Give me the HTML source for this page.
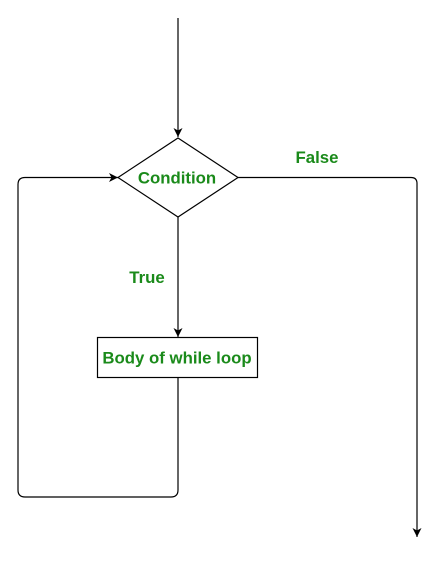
<!DOCTYPE html>
<html><head><style>body{margin:0;background:#fff}</style></head><body>
<svg width="436" height="556" xmlns="http://www.w3.org/2000/svg">
<defs><marker id="a" markerWidth="12" markerHeight="12" refX="9" refY="4.5" orient="auto" markerUnits="userSpaceOnUse"><path d="M0,0 L9,4.5 L0,9 L2.5,4.5 z" fill="#000"/></marker></defs>
<g fill="none" stroke="#000" stroke-width="1.2">
<path d="M178,18 V137" marker-end="url(#a)"/>
<polygon points="178,138 238,177.5 178,217 118,177.5" fill="#fff"/>
<path d="M238,177.5 H411 Q417,177.5 417,183.5 V537" marker-end="url(#a)"/>
<path d="M178,217 V337" marker-end="url(#a)"/>
<rect x="97.5" y="337.5" width="160" height="40" fill="#fff"/>
<path d="M178,377 V490 Q178,497 171,497 H25 Q18,497 18,490 V184.5 Q18,177.5 25,177.5 H118" marker-end="url(#a)"/>
</g>
<g font-family="Liberation Sans, sans-serif" font-weight="bold" font-size="16.8" fill="#1a8a1a" text-anchor="middle">
<text x="177" y="183.5">Condition</text>
<text x="177" y="363.5">Body of while loop</text>
<text x="317" y="163">False</text>
<text x="147" y="283">True</text>
</g>
</svg>
</body></html>
